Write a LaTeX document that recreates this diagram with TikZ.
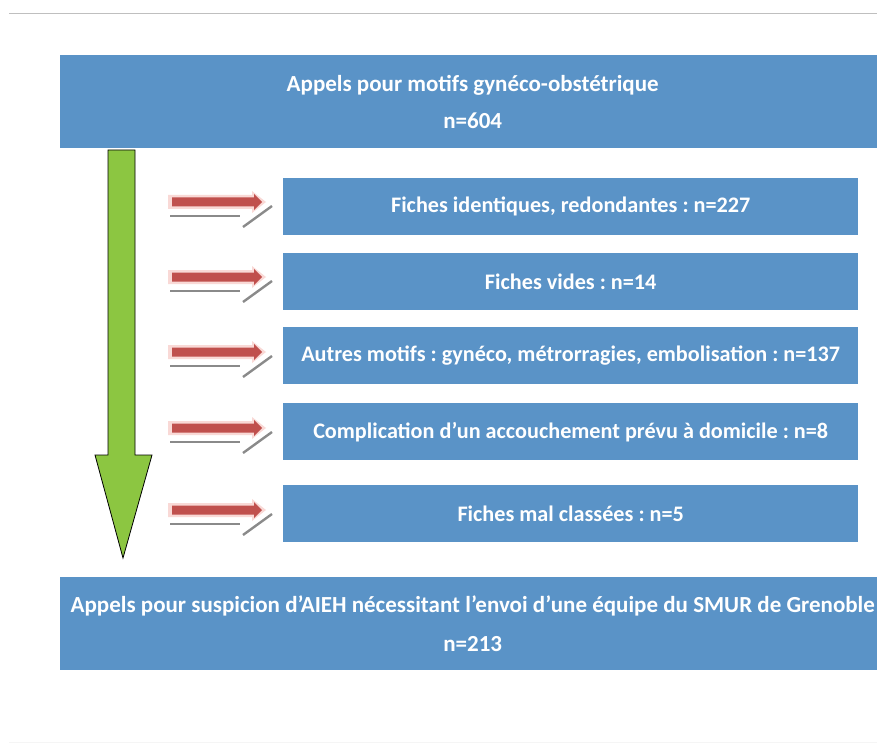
\documentclass[tikz,border=0pt]{standalone}
\usepackage{fontspec}
\setmainfont{Carlito}
\frenchspacing
\definecolor{boxblue}{HTML}{5A93C7}
\definecolor{arrred}{HTML}{C0504D}
\definecolor{glowpink}{HTML}{F9D9D6}
\definecolor{shadegray}{HTML}{8A8A8A}
\definecolor{arrgreen}{HTML}{8CC641}
\begin{document}
\begin{tikzpicture}[x=1pt,y=-1pt,
  bigbox/.style={fill=boxblue,draw=none,text=white,align=center,font=\fontsize{23}{37}\selectfont\bfseries,minimum width=825pt,minimum height=93pt,inner sep=0pt,anchor=north west},
  sidebox/.style={fill=boxblue,draw=none,text=white,align=center,font=\fontsize{22.2}{26}\selectfont\bfseries,minimum width=575pt,minimum height=57pt,inner sep=0pt,anchor=north west},
  rulegray/.style={draw=black!25,line width=1.2pt}]
\useasboundingbox (0,0) rectangle (877,743);
\fill[white] (0,0) rectangle (877,743);
\draw[rulegray] (9,13.5) -- (877,13.5);
\draw[draw=black!4,line width=1pt] (9,742) -- (877,742);
% main boxes
\node[bigbox] (top) at (60,55) {Appels pour motifs gynéco-obstétrique\\n=604};
\node[bigbox] (bottom) at (60,577) {\raisebox{2pt}{Appels pour suspicion d'AIEH nécessitant l'envoi d'une équipe du SMUR de Grenoble}\\n=213};
% side boxes
\node[sidebox] (b1) at (283,178) {Fiches identiques, redondantes : n=227};
\node[sidebox] (b2) at (283,253) {Fiches vides : n=14};
\node[sidebox] (b3) at (283,327) {Autres motifs : gynéco, métrorragies, embolisation : n=137};
\node[sidebox] (b4) at (283,403) {Complication d'un accouchement prévu à domicile : n=8};
\node[sidebox] (b5) at (283,485) {Fiches mal classées : n=5};
% green arrow
\draw[fill=arrgreen,draw=black,line width=0.8pt,line join=miter]
  (108,150) -- (135,150) -- (135,455) -- (152,455) -- (123,558) -- (95,455) -- (108,455) -- cycle;
% red arrows
\foreach \yc in {202,277,352,428,510}{
  \fill[glowpink] (168,\yc-7) -- (252,\yc-7) -- (252,\yc-11) -- (266,\yc) -- (252,\yc+11) -- (252,\yc+7) -- (168,\yc+7) -- cycle;
  \fill[arrred] (172,\yc-4.5) -- (254,\yc-4.5) -- (254,\yc-8) -- (262,\yc) -- (254,\yc+8) -- (254,\yc+4.5) -- (172,\yc+4.5) -- cycle;
  \draw[shadegray,line width=2.4pt] (170,\yc+14) -- (240,\yc+14);
  \draw[shadegray,line width=2.4pt] (243,\yc+25) -- (272,\yc+4);
}
\end{tikzpicture}
\end{document}
